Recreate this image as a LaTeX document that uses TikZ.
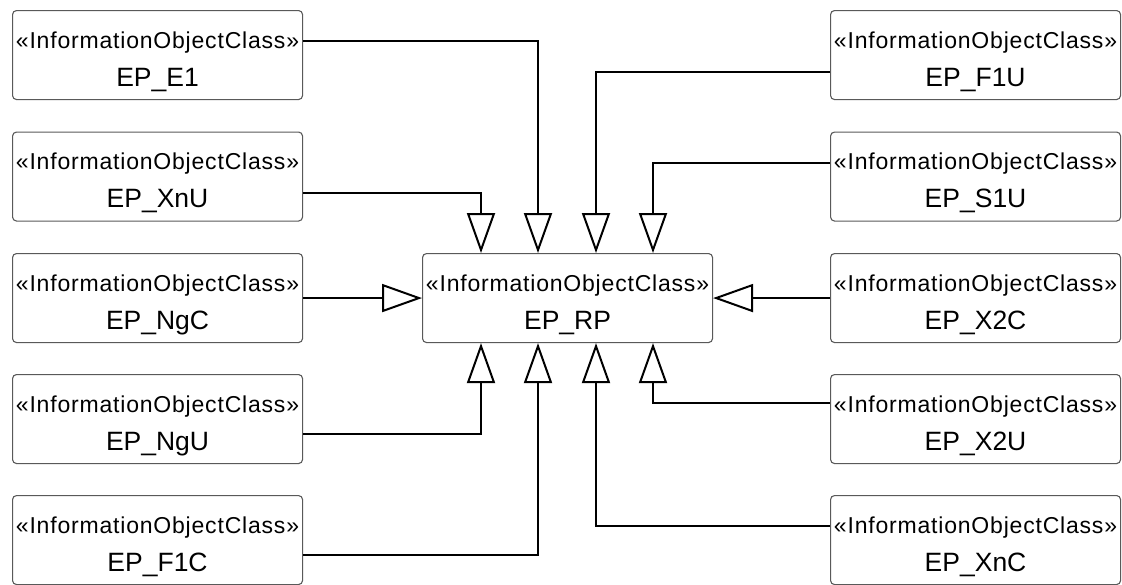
\documentclass[tikz,border=0pt]{standalone}
\usepackage{fontspec}
\setmainfont{Liberation Sans}
\newfontfamily\stfont[LetterSpace=3.5]{Liberation Sans}
\usetikzlibrary{arrows.meta,calc}
\begin{document}
\begin{tikzpicture}[x=1pt,y=-1pt,
 cls/.style={draw=black!65, line width=1.1pt, rounded corners=4pt, minimum width=290pt, minimum height=89pt, inner sep=0pt, anchor=north west},
 ster/.style={anchor=base, inner sep=0pt, font=\stfont\fontsize{23}{23}\selectfont},
 nm/.style={anchor=base, inner sep=0pt, font=\fontsize{26.5}{26.5}\selectfont},
 gen/.style={line width=2pt, -{Triangle[open, length=40pt, width=28pt, fill=white]}}
]
\useasboundingbox (0,0) rectangle (1122,584);
\foreach \n/\x/\y/\t in {e1/12/10/EP\_E1, xnu/12/131.5/EP\_XnU, ngc/12/253/EP\_NgC, ngu/12/374/EP\_NgU, f1c/12/495/EP\_F1C,
  f1u/830/10/EP\_F1U, s1u/830/131.5/EP\_S1U, x2c/830/253/EP\_X2C, x2u/830/374/EP\_X2U, xnc/830/495/EP\_XnC,
  rp/422/253/EP\_RP} {
  \node[cls] (\n) at (\x,\y) {};
  \node[ster] (\n s) at ($(\n.north)+(0,38)$) {«InformationObjectClass»};
  \node[nm] (\n t) at ($(\n.north)+(0,76)$) {\t};
}
\draw[gen] ([yshift=-31pt]e1.north east) -| ([xshift=116pt]rp.north west);
\draw[gen] ([yshift=-61pt]xnu.north east) -| ([xshift=59pt]rp.north west);
\draw[gen] ([yshift=-61.5pt]f1u.north west) -| ([xshift=174pt]rp.north west);
\draw[gen] ([yshift=-31pt]s1u.north west) -| ([xshift=231pt]rp.north west);
\draw[gen] (ngc.east) -- (rp.west);
\draw[gen] (x2c.west) -- (rp.east);
\draw[gen] ([yshift=-60pt]ngu.north east) -| ([xshift=59pt]rp.south west);
\draw[gen] ([yshift=-60pt]f1c.north east) -| ([xshift=116pt]rp.south west);
\draw[gen] ([yshift=-29pt]x2u.north west) -| ([xshift=231pt]rp.south west);
\draw[gen] ([yshift=-30.5pt]xnc.north west) -| ([xshift=174pt]rp.south west);
\end{tikzpicture}
\end{document}
